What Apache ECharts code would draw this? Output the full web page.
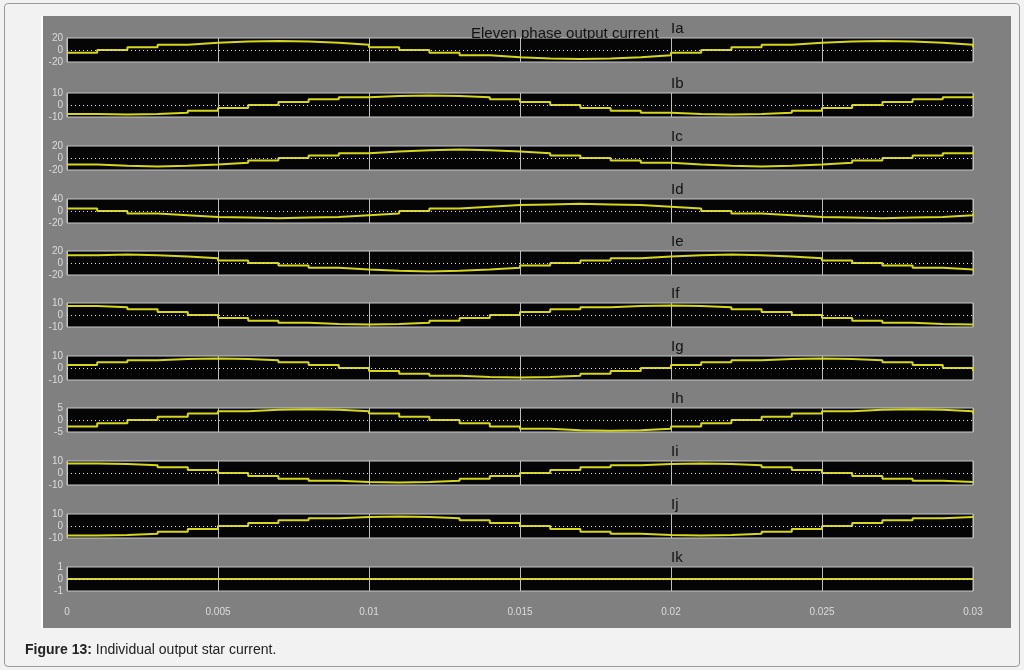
<!DOCTYPE html>
<html>
<head>
<meta charset="utf-8">
<script src="https://cdn.jsdelivr.net/npm/echarts@6/dist/echarts.min.js"></script>
<style>
  body { margin: 0; background: #f2f2f2; font-family: "Liberation Sans", Arial, sans-serif; }
  #frame { position: absolute; left: 4px; top: 3px; width: 1014px; height: 662px; border: 1px solid #9a9a9a; border-radius: 4px; background: #f2f2f2; }
  #panel { position: absolute; left: 41px; top: 16px; width: 968px; height: 612px; background: #808080; border-left: 2px solid #fff; }
  #chart { position: absolute; left: 0; top: 0; width: 1024px; height: 670px; }
  #caption { position: absolute; left: 25px; top: 641px; font-size: 14px; color: #222; }
</style>
</head>
<body>
<div id="frame"></div>
<div id="panel"></div>
<div id="chart"></div>
<div id="caption"><b>Figure 13:</b> Individual output star current.</div>
<script>
// time in ms steps, 0 .. 30 (0 .. 0.03 s)
var time = [];
for (var i = 0; i <= 30; i++) time.push(i / 1000);

var names = ['Ia', 'Ib', 'Ic', 'Id', 'Ie', 'If', 'Ig', 'Ih', 'Ii', 'Ij', 'Ik'];
var yMax = [20, 10, 20, 20, 20, 10, 10, 5, 10, 10, 1];
var yTickLabels = [['20', '0', '-20'], ['10', '0', '-10'], ['20', '0', '-20'], ['40', '0', '-20'], ['20', '0', '-20'],
  ['10', '0', '-10'], ['10', '0', '-10'], ['5', '0', '-5'], ['10', '0', '-10'], ['10', '0', '-10'], ['1', '0', '-1']];
var xTickLabels = ['0', '0.005', '0.01', '0.015', '0.02', '0.025', '0.03'];

var Ia = [-4.6, 0, 4.6, 8.8, 12, 14, 15, 14, 12, 8.8, 4.6, 0, -4.6, -8.8, -12, -14, -15, -14, -12, -8.8, -4.6, 0, 4.6, 8.8, 12, 14, 15, 14, 12, 8.8, 4.6];
var Ib = [-7.6, -8, -7.6, -6.5, -4.7, -2.5, 0, 2.5, 4.7, 6.5, 7.6, 8, 7.6, 6.5, 4.7, 2.5, 0, -2.5, -4.7, -6.5, -7.6, -8, -7.6, -6.5, -4.7, -2.5, 0, 2.5, 4.7, 6.5, 7.6];
var Ic = [-11, -13, -14, -13, -11, -8, -4, 0, 4, 8, 11, 13, 14, 13, 11, 8, 4, 0, -4, -8, -11, -13, -14, -13, -11, -8, -4, 0, 4, 8, 11];
var Id = [4, 0, -4, -7, -10, -11, -12, -11, -10, -7, -4, 0, 4, 7, 10, 11, 12, 11, 10, 7, 4, 0, -4, -7, -10, -11, -12, -11, -10, -7, -4];
var Ie = [13, 14, 13, 11, 8, 4, 0, -4, -8, -11, -13, -14, -13, -11, -8, -4, 0, 4, 8, 11, 13, 14, 13, 11, 8, 4, 0, -4, -8, -11, -13];
var If = [7.6, 6.5, 4.7, 2.5, 0, -2.5, -4.7, -6.5, -7.6, -8, -7.6, -6.5, -4.7, -2.5, 0, 2.5, 4.7, 6.5, 7.6, 8, 7.6, 6.5, 4.7, 2.5, 0, -2.5, -4.7, -6.5, -7.6, -8, -7.6];
var Ig = [2.5, 4.7, 6.5, 7.6, 8, 7.6, 6.5, 4.7, 2.5, 0, -2.5, -4.7, -6.5, -7.6, -8, -7.6, -6.5, -4.7, -2.5, 0, 2.5, 4.7, 6.5, 7.6, 8, 7.6, 6.5, 4.7, 2.5, 0, -2.5];
var Ih = [-2.7, -1.4, 0, 1.4, 2.7, 3.6, 4.3, 4.5, 4.3, 3.6, 2.7, 1.4, 0, -1.4, -2.7, -3.6, -4.3, -4.5, -4.3, -3.6, -2.7, -1.4, 0, 1.4, 2.7, 3.6, 4.3, 4.5, 4.3, 3.6, 2.7];
var Ii = [8, 7.6, 6.5, 4.7, 2.5, 0, -2.5, -4.7, -6.5, -7.6, -8, -7.6, -6.5, -4.7, -2.5, 0, 2.5, 4.7, 6.5, 7.6, 8, 7.6, 6.5, 4.7, 2.5, 0, -2.5, -4.7, -6.5, -7.6, -8];
var Ij = [-8, -7.6, -6.5, -4.7, -2.5, 0, 2.5, 4.7, 6.5, 7.6, 8, 7.6, 6.5, 4.7, 2.5, 0, -2.5, -4.7, -6.5, -7.6, -8, -7.6, -6.5, -4.7, -2.5, 0, 2.5, 4.7, 6.5, 7.6, 8];
var Ik = [0, 0, 0, 0, 0, 0, 0, 0, 0, 0, 0, 0, 0, 0, 0, 0, 0, 0, 0, 0, 0, 0, 0, 0, 0, 0, 0, 0, 0, 0, 0];
var seriesData = [Ia, Ib, Ic, Id, Ie, If, Ig, Ih, Ii, Ij, Ik];

var tops = [38, 93, 146, 199, 251, 303, 356, 408, 461, 514, 567];
var font = '"Liberation Sans Narrow", "Liberation Sans", sans-serif';

var grids = [], xAxes = [], yAxes = [], series = [], titles = [];
titles.push({
  text: 'Eleven phase output current', left: 466, top: 21,
  textStyle: { fontFamily: font, fontSize: 15, fontWeight: 'normal', color: '#111' }
});

names.forEach(function (name, k) {
  grids.push({ left: 67, width: 906, top: tops[k], height: 24, show: true, backgroundColor: '#050505', borderColor: '#c8c8c8', borderWidth: 1 });
  titles.push({
    text: name, left: 666, top: tops[k] - 22,
    textStyle: { fontFamily: font, fontSize: 15, fontWeight: 'normal', color: '#111' }
  });
  var last = k === names.length - 1;
  xAxes.push({
    type: 'value', gridIndex: k, min: 0, max: 0.03, interval: 0.005,
    axisLine: { show: false }, axisTick: { show: false },
    axisLabel: {
      show: last, margin: 16, color: '#dcdcdc', fontFamily: font, fontSize: 10,
      formatter: function (v) { return xTickLabels[Math.round(v / 0.005)]; }
    },
    splitLine: { show: true, lineStyle: { color: '#bdbdbd', width: 1 } }
  });
  var m = yMax[k];
  yAxes.push({
    type: 'value', gridIndex: k, min: -m, max: m, interval: m,
    axisLine: { show: false }, axisTick: { show: false },
    splitLine: { show: false },
    axisLabel: {
      margin: 4, color: '#dcdcdc', fontFamily: font, fontSize: 10,
      formatter: function (v) { return yTickLabels[k][v > 0 ? 0 : (v < 0 ? 2 : 1)]; }
    }
  });
  series.push({
    type: 'line', xAxisIndex: k, yAxisIndex: k, step: 'end', symbol: 'none',
    data: time.map(function (t, i) { return [t, seriesData[k][i]]; }),
    lineStyle: { color: '#d6d61e', width: 2 },
    markLine: {
      silent: true, symbol: 'none', label: { show: false },
      lineStyle: { color: '#e0e0e0', type: [1, 3], width: 1 },
      data: [{ yAxis: 0 }]
    },
    z: 3
  });
});

var chart = echarts.init(document.getElementById('chart'));
chart.setOption({
  animation: false,
  title: titles,
  grid: grids,
  xAxis: xAxes,
  yAxis: yAxes,
  series: series
});
</script>
</body>
</html>
